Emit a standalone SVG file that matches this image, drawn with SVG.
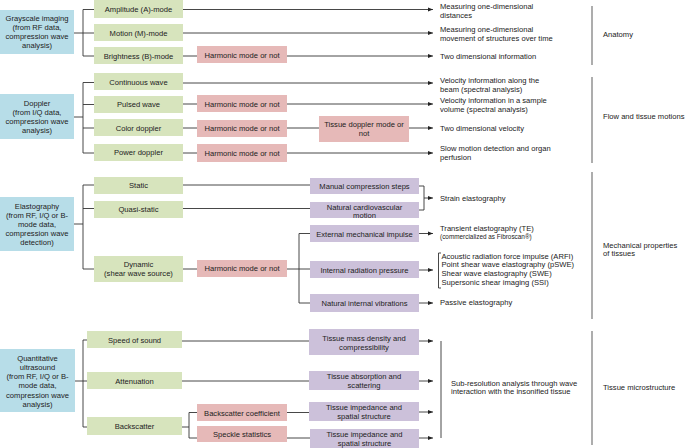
<svg xmlns="http://www.w3.org/2000/svg" width="685" height="448" viewBox="0 0 685 448">
<defs>
<marker id="ah" markerWidth="6" markerHeight="6" refX="5" refY="3" orient="auto" markerUnits="userSpaceOnUse">
<path d="M0,1 L5,3 L0,5 Z" fill="#222"/>
</marker>
<style>
text{font-family:"Liberation Sans",Arial,sans-serif;font-size:7.6px;fill:#222}
.c{text-anchor:middle}
.s{font-size:6.4px}
.blue{fill:#b7dde8}
.green{fill:#d7e4bd}
.pink{fill:#e6b9b8}
.purple{fill:#ccc1da}
.ln{fill:none;stroke:#333;stroke-width:0.9}
.ar{fill:none;stroke:#333;stroke-width:0.9;marker-end:url(#ah)}
.sep{fill:none;stroke:#999;stroke-width:1.6}
</style>
</defs>
<rect width="685" height="448" fill="#fff"/>

<g id="connectors">
<!-- Grayscale -->
<path class="ln" d="M74,33 H83 M83,9.5 V56 M83,9.5 H94 M83,33 H94 M83,56 H94"/>
<path class="ar" d="M183,9.5 H433"/>
<path class="ar" d="M183,33 H433"/>
<path class="ln" d="M183,56 H197"/>
<path class="ar" d="M287,56 H433"/>
<!-- Doppler -->
<path class="ln" d="M74,117 H83 M83,82.5 V153 M83,82.5 H94 M83,104.5 H94 M83,128 H94 M83,153 H94"/>
<path class="ar" d="M183,83 H433"/>
<path class="ln" d="M183,104 H197"/>
<path class="ar" d="M287,104 H433"/>
<path class="ln" d="M183,128 H197 M287,128 H319"/>
<path class="ar" d="M409,128 H433"/>
<path class="ln" d="M183,153 H197"/>
<path class="ar" d="M287,153 H433"/>
<!-- Elastography -->
<path class="ln" d="M74,224 H83 M83,185 V269 M83,185 H94 M83,208.5 H94 M83,269 H94"/>
<path class="ln" d="M183,185 H310"/>
<path class="ln" d="M183,208.5 H310"/>
<path class="ln" d="M183,269 H197 M287,269 H310 M299,233.5 V303 M299,233.5 H310 M299,303 H310"/>
<path class="ln" d="M419,186 H424 V210 H419"/>
<path class="ar" d="M424,198 H433"/>
<path class="ar" d="M419,233.5 H433"/>
<path class="ar" d="M419,270 H433"/>
<path class="ar" d="M419,303 H433"/>
<path class="ln" d="M441,253 H438.5 V288 H441"/>
<!-- Quantitative -->
<path class="ln" d="M75,381 H83 M83,340 V427 M83,340 H87 M83,381 H87 M83,427 H87"/>
<path class="ln" d="M182,341 H309"/>
<path class="ar" d="M419,341 H433"/>
<path class="ln" d="M182,381 H309"/>
<path class="ar" d="M419,381 H433"/>
<path class="ln" d="M182,427 H189 M189,412.5 V438 M189,412.5 H197 M189,438 H197"/>
<path class="ln" d="M287,412.5 H309"/>
<path class="ar" d="M419,412 H433"/>
<path class="ln" d="M287,438 H310"/>
<path class="ar" d="M419,438 H433"/>
<path class="ln" d="M441,341 V438"/>
<!-- separators -->
<path class="sep" d="M592,6 V65 M592,77 V163 M592,172 V319 M592,331 V445"/>
</g>

<!-- Blue source nodes -->
<g id="grayscale"><rect class="blue" x="0" y="10" width="74" height="44"/>
<text class="c" x="37" y="21">Grayscale imaging</text><text class="c" x="37" y="30">(from RF data,</text><text class="c" x="37" y="39">compression wave</text><text class="c" x="37" y="48">analysis)</text></g>
<g id="doppler"><rect class="blue" x="0" y="94" width="74" height="45"/>
<text class="c" x="37" y="106">Doppler</text><text class="c" x="37" y="115">(from I/Q data,</text><text class="c" x="37" y="124">compression wave</text><text class="c" x="37" y="133">analysis)</text></g>
<g id="elastography"><rect class="blue" x="0" y="197" width="74" height="54"/>
<text class="c" x="37" y="208.7">Elastography</text><text class="c" x="37" y="217.7">(from RF, I/Q or B-</text><text class="c" x="37" y="226.7">mode data,</text><text class="c" x="37" y="235.7">compression wave</text><text class="c" x="37" y="244.7">detection)</text></g>
<g id="quantitative"><rect class="blue" x="0" y="349" width="75" height="63"/>
<text class="c" x="37.5" y="360.7">Quantitative</text><text class="c" x="37.5" y="369.9">ultrasound</text><text class="c" x="37.5" y="379.1">(from RF, I/Q or B-</text><text class="c" x="37.5" y="388.3">mode data,</text><text class="c" x="37.5" y="397.5">compression wave</text><text class="c" x="37.5" y="406.7">analysis)</text></g>

<!-- Green nodes -->
<g id="amplitude"><rect class="green" x="94" y="0" width="89" height="18"/><text class="c" x="138.5" y="11.7">Amplitude (A)-mode</text></g>
<g id="motion"><rect class="green" x="94" y="24" width="89" height="17"/><text class="c" x="138.5" y="35.7">Motion (M)-mode</text></g>
<g id="brightness"><rect class="green" x="94" y="47" width="89" height="17"/><text class="c" x="138.5" y="58.7">Brightness (B)-mode</text></g>
<g id="continuous"><rect class="green" x="94" y="73" width="89" height="17"/><text class="c" x="138.5" y="84.7">Continuous wave</text></g>
<g id="pulsed"><rect class="green" x="94" y="96" width="89" height="17"/><text class="c" x="138.5" y="107.2">Pulsed wave</text></g>
<g id="color"><rect class="green" x="94" y="119" width="89" height="17"/><text class="c" x="138.5" y="130.5">Color doppler</text></g>
<g id="power"><rect class="green" x="94" y="144" width="89" height="17"/><text class="c" x="138.5" y="155.4">Power doppler</text></g>
<g id="static"><rect class="green" x="94" y="177" width="89" height="17"/><text class="c" x="138.5" y="188.4">Static</text></g>
<g id="quasistatic"><rect class="green" x="94" y="201" width="89" height="17"/><text class="c" x="138.5" y="212.2">Quasi-static</text></g>
<g id="dynamic"><rect class="green" x="94" y="256" width="89" height="26"/><text class="c" x="138.5" y="266.7">Dynamic</text><text class="c" x="138.5" y="276.2">(shear wave source)</text></g>
<g id="speed"><rect class="green" x="87" y="331" width="95" height="17"/><text class="c" x="134.5" y="342.7">Speed of sound</text></g>
<g id="attenuation"><rect class="green" x="87" y="372" width="95" height="17"/><text class="c" x="134.5" y="383.7">Attenuation</text></g>
<g id="backscatter"><rect class="green" x="87" y="417" width="95" height="18"/><text class="c" x="134.5" y="428.7">Backscatter</text></g>

<!-- Pink nodes -->
<g id="harm-b"><rect class="pink" x="197" y="46" width="90" height="17"/><text class="c" x="242" y="57.7">Harmonic mode or not</text></g>
<g id="harm-pw"><rect class="pink" x="197" y="95" width="90" height="17"/><text class="c" x="242" y="106.7">Harmonic mode or not</text></g>
<g id="harm-cd"><rect class="pink" x="197" y="120" width="90" height="17"/><text class="c" x="242" y="131.2">Harmonic mode or not</text></g>
<g id="harm-pd"><rect class="pink" x="197" y="144" width="90" height="18"/><text class="c" x="242" y="155.7">Harmonic mode or not</text></g>
<g id="tissue-doppler"><rect class="pink" x="319" y="116" width="90" height="26"/><text class="c" x="364" y="126.7">Tissue doppler mode or</text><text class="c" x="364" y="135.7">not</text></g>
<g id="harm-el"><rect class="pink" x="197" y="260" width="90" height="17"/><text class="c" x="242" y="271.2">Harmonic mode or not</text></g>
<g id="bs-coef"><rect class="pink" x="197" y="404" width="90" height="17"/><text class="c" x="242" y="415.7">Backscatter coefficient</text></g>
<g id="speckle"><rect class="pink" x="197" y="426" width="90" height="16"/><text class="c" x="242" y="436.7">Speckle statistics</text></g>

<!-- Purple nodes -->
<g id="manual"><rect class="purple" x="310" y="178" width="109" height="16"/><text class="c" x="364.5" y="188.7">Manual compression steps</text></g>
<g id="cardio"><rect class="purple" x="310" y="202" width="109" height="16"/><text class="c" x="364.5" y="209.7">Natural cardiovascular</text><text class="c" x="364.5" y="217.7">motion</text></g>
<g id="external"><rect class="purple" x="310" y="225" width="109" height="17"/><text class="c" x="364.5" y="236.7">External mechanical impulse</text></g>
<g id="internal"><rect class="purple" x="310" y="261" width="109" height="17"/><text class="c" x="364.5" y="272.7">Internal radiation pressure</text></g>
<g id="vibrations"><rect class="purple" x="310" y="294" width="109" height="18"/><text class="c" x="364.5" y="305.7">Natural internal vibrations</text></g>
<g id="mass"><rect class="purple" x="309" y="329" width="110" height="26"/><text class="c" x="364" y="340.7">Tissue mass density and</text><text class="c" x="364" y="349.7">compressibility</text></g>
<g id="absorption"><rect class="purple" x="309" y="371" width="110" height="19"/><text class="c" x="364" y="378.7">Tissue absorption and</text><text class="c" x="364" y="387.7">scattering</text></g>
<g id="impedance1"><rect class="purple" x="309" y="402" width="110" height="19"/><text class="c" x="364" y="409.7">Tissue impedance and</text><text class="c" x="364" y="418.7">spatial structure</text></g>
<g id="impedance2"><rect class="purple" x="310" y="429" width="109" height="19"/><text class="c" x="364.5" y="436.7">Tissue impedance and</text><text class="c" x="364.5" y="445.5">spatial structure</text></g>

<!-- Outcome texts -->
<g id="outcomes">
<text x="440" y="8.7">Measuring one-dimensional</text><text x="440" y="17.7">distances</text>
<text x="440" y="31.7">Measuring one-dimensional</text><text x="440" y="40.7">movement of structures over time</text>
<text x="440" y="58.7">Two dimensional information</text>
<text x="440" y="82.7">Velocity information along the</text><text x="440" y="91.7">beam (spectral analysis)</text>
<text x="440" y="102.7">Velocity information in a sample</text><text x="440" y="111.7">volume (spectral analysis)</text>
<text x="440" y="130.7">Two dimensional velocity</text>
<text x="440" y="150.7">Slow motion detection and organ</text><text x="440" y="160">perfusion</text>
<text x="440" y="200.7">Strain elastography</text>
<text x="440" y="230.7">Transient elastography (TE)</text><text class="s" x="440" y="239">(commercialized as Fibroscan®)</text>
<text x="441.5" y="258.7">Acoustic radiation force impulse (ARFI)</text>
<text x="441.5" y="267.2">Point shear wave elastography (pSWE)</text>
<text x="441.5" y="275.7">Shear wave elastography (SWE)</text>
<text x="441.5" y="284.7">Supersonic shear imaging (SSI)</text>
<text x="440" y="304.7">Passive elastography</text>
<text x="451" y="385.7">Sub-resolution analysis through wave</text><text x="451" y="394">interaction with the insonified tissue</text>
</g>
<g id="categories">
<text x="603" y="36.7">Anatomy</text>
<text x="603" y="118.7">Flow and tissue motions</text>
<text x="603" y="247.7">Mechanical properties</text><text x="603" y="256">of tissues</text>
<text x="603" y="389.7">Tissue microstructure</text>
</g>
</svg>
